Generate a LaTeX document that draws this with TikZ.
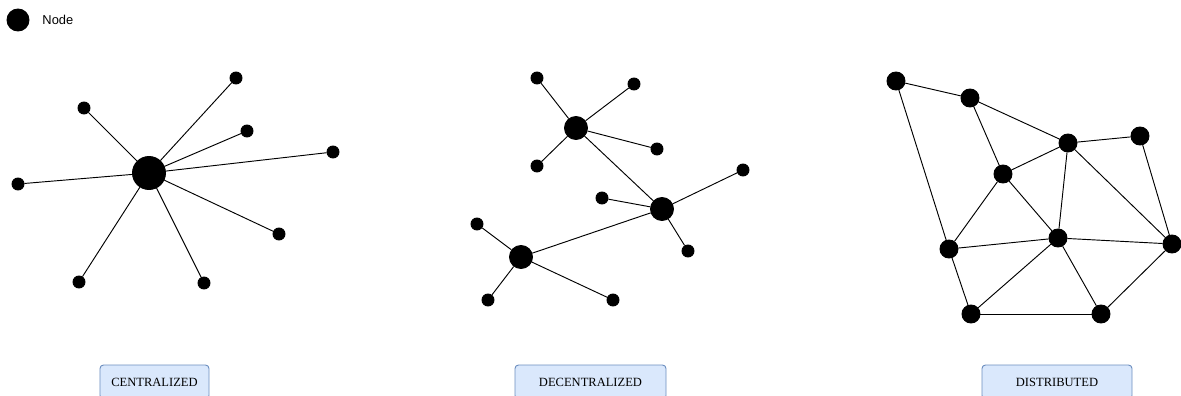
\documentclass[tikz,border=0pt]{standalone}
\usepackage{fontspec}
\setmainfont{Liberation Serif}
\newfontfamily\legendfont{Liberation Sans}
\usepackage{tikz}
\usetikzlibrary{positioning}
\definecolor{boxfill}{HTML}{DAE8FC}
\definecolor{boxline}{HTML}{6C8EBF}
\tikzset{
  every picture/.style={line width=0.8pt},
  leaf/.style={draw, circle, fill=black, minimum size=0.36cm, inner sep=0cm},
  hub/.style={draw, circle, fill=black, minimum size=0.69cm, inner sep=0cm},
  core/.style={draw, circle, fill=black, minimum size=0.99cm, inner sep=0cm},
  peer/.style={draw, circle, fill=black, minimum size=0.54cm, inner sep=0cm},
  kind/.style={draw=boxline, fill=boxfill, rounded corners=3pt, minimum height=1.02cm,
    inner sep=0cm, font=\fontsize{10.7}{12}\selectfont}
}

\begin{document}
\begin{tikzpicture}[x=0.03cm, y=-0.03cm]
    \useasboundingbox (0,0) rectangle (1181,396);
    % legend
    \node [draw, circle, fill=black, minimum size=0.66cm, inner sep=0cm] (key) at (18,20) {};
    \node [anchor=west, inner sep=0cm, font=\legendfont\fontsize{11}{12}\selectfont] (keytext) at (42,20) {Node};

    \begin{scope}
      % centralized
      \node [core] (c0) at (149,173) {};
      \node [leaf] (c1) at (236,78) {};
      \node [leaf] (c2) at (84,108) {};
      \node [leaf] (c3) at (247,131) {};
      \node [leaf] (c4) at (333,152) {};
      \node [leaf] (c5) at (18,184) {};
      \node [leaf] (c6) at (279,234) {};
      \node [leaf] (c7) at (79,282) {};
      \node [leaf] (c8) at (204,283) {};
      \foreach \i in {1,...,8}
        \draw (c0) -- (c\i);
      \node [kind, minimum width=3.27cm] (ctext) at (154.5,382) {CENTRALIZED};
    \end{scope}

    \begin{scope}
      % decentralized
      \node [hub] (h1) at (576,128) {};
      \node [hub] (h2) at (662,209) {};
      \node [hub] (h3) at (521,257) {};
      \node [leaf] (a1) at (537,78) {};
      \node [leaf] (a2) at (634,84) {};
      \node [leaf] (a3) at (537,166) {};
      \node [leaf] (a4) at (657,149) {};
      \node [leaf] (b1) at (743,170) {};
      \node [leaf] (b2) at (602,198) {};
      \node [leaf] (b3) at (688,251) {};
      \node [leaf] (e1) at (477,224) {};
      \node [leaf] (e2) at (488,300) {};
      \node [leaf] (e3) at (613,300) {};
      \foreach \j in {a1,a2,a3,a4,h2}
        \draw (h1) -- (\j);
      \foreach \j in {b1,b2,b3,h3}
        \draw (h2) -- (\j);
      \foreach \j in {e1,e2,e3}
        \draw (h3) -- (\j);
      \node [kind, minimum width=4.53cm] (dtext) at (590.5,382) {DECENTRALIZED};
    \end{scope}

    \begin{scope}
      % distributed
      \node [peer] (1) at (896,81) {};
      \node [peer] (2) at (970,98) {};
      \node [peer] (3) at (1068,143) {};
      \node [peer] (4) at (1140,136) {};
      \node [peer] (5) at (1003,174) {};
      \node [peer] (6) at (949,249) {};
      \node [peer] (7) at (1058,238) {};
      \node [peer] (8) at (1172,244) {};
      \node [peer] (9) at (971,314) {};
      \node [peer] (10) at (1101,314) {};
      \foreach \a/\b in {1/2,1/6,2/5,2/3,3/4,3/5,3/7,3/8,4/8,5/6,5/7,6/7,6/9,7/9,7/10,7/8,9/10,10/8}
        \draw (\a) -- (\b);
      \node [kind, minimum width=4.5cm] (ptext) at (1057,382) {DISTRIBUTED};
    \end{scope}
\end{tikzpicture}
\end{document}
